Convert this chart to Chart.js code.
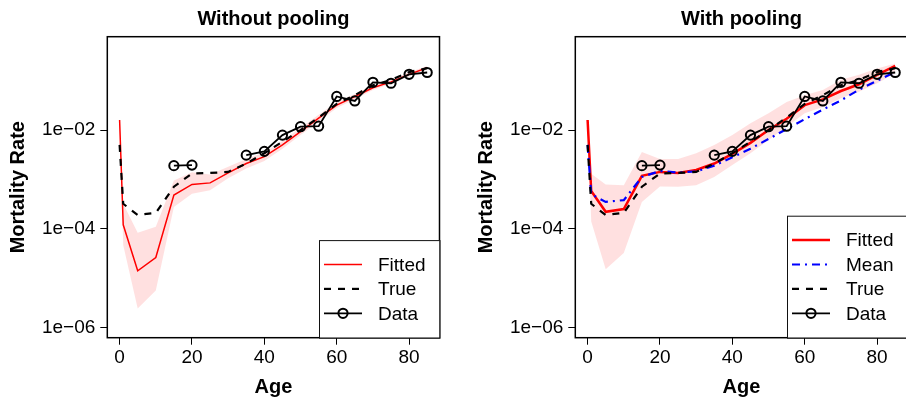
<!DOCTYPE html>
<html>
<head>
<meta charset="utf-8">
<script src="https://cdn.jsdelivr.net/npm/chart.js@4.4.1/dist/chart.umd.min.js"></script>
<style>
    html, body { margin: 0; padding: 0; background: #fff; overflow: hidden; width: 906px; height: 397px; }
    canvas { position: absolute; top: 0; }
    #leftChart { left: 0; }
    #rightChart { left: 468px; }
</style>
</head>
<body>
<canvas id="leftChart" width="468" height="397"></canvas>
<canvas id="rightChart" width="468" height="397"></canvas>
<script>
// ages on the x axis
const ages = [0, 1, 5, 10, 15, 20, 25, 30, 35, 40, 45, 50, 55, 60, 65, 70, 75, 80, 85];

// observed data (same in both panels), null = no data
const observed = [null, null, null, null, 1.9e-3, 1.95e-3, null, null, 3.1e-3, 3.7e-3, 7.9e-3, 1.17e-2, 1.2e-2, 4.8e-2, 3.9e-2, 9.3e-2, 8.9e-2, 1.35e-1, 1.47e-1];

// true rates
const trueRate = [5.0e-3, 3.2e-4, 1.9e-4, 2.1e-4, 7.1e-4, 1.32e-3, 1.35e-3, 1.42e-3, 2.1e-3, 3.4e-3, 5.8e-3, 1.0e-2, 1.8e-2, 3.4e-2, 5.1e-2, 8.1e-2, 1.04e-1, 1.5e-1, 1.8e-1];

// without pooling
const fittedNoPool = [1.6e-2, 1.2e-4, 1.4e-5, 2.6e-5, 4.8e-4, 7.9e-4, 8.5e-4, 1.35e-3, 2.1e-3, 2.9e-3, 5.0e-3, 9.3e-3, 1.74e-2, 3.2e-2, 4.8e-2, 7.2e-2, 9.5e-2, 1.35e-1, 1.84e-1];
const upperNoPool = [1.8e-2, 3.2e-4, 8.3e-5, 1.1e-4, 9.5e-4, 1.4e-3, 1.25e-3, 1.8e-3, 2.6e-3, 3.5e-3, 6.0e-3, 1.12e-2, 2.05e-2, 3.7e-2, 5.4e-2, 7.9e-2, 1.05e-1, 1.48e-1, 2.0e-1];
const lowerNoPool = [1.4e-2, 4.6e-5, 2.4e-6, 5.6e-6, 2.75e-4, 5.1e-4, 6.0e-4, 1.05e-3, 1.66e-3, 2.35e-3, 4.2e-3, 7.9e-3, 1.48e-2, 2.8e-2, 4.2e-2, 6.5e-2, 8.7e-2, 1.23e-1, 1.7e-1];

// with pooling
const fittedPool = [1.6e-2, 5.8e-4, 2.2e-4, 2.5e-4, 1.18e-3, 1.42e-3, 1.35e-3, 1.55e-3, 2.1e-3, 3.3e-3, 5.5e-3, 1.0e-2, 1.7e-2, 3.2e-2, 4.2e-2, 6.2e-2, 8.5e-2, 1.31e-1, 2.0e-1];
const meanPool = [5.0e-3, 5.0e-4, 3.5e-4, 3.8e-4, 1.12e-3, 1.48e-3, 1.38e-3, 1.45e-3, 1.9e-3, 2.8e-3, 4.2e-3, 6.6e-3, 1.05e-2, 1.66e-2, 2.6e-2, 4.0e-2, 6.6e-2, 1.0e-1, 1.5e-1];
const upperPool = [1.8e-2, 1.3e-3, 7.9e-4, 7.6e-4, 3.6e-3, 2.6e-3, 2.6e-3, 3.4e-3, 5.0e-3, 7.9e-3, 1.38e-2, 2.2e-2, 3.7e-2, 5.1e-2, 6.5e-2, 1.05e-1, 1.32e-1, 1.78e-1, 2.24e-1];
const lowerPool = [1.4e-2, 1.4e-4, 1.5e-5, 3.2e-5, 3.5e-4, 7.2e-4, 7.1e-4, 7.6e-4, 1.12e-3, 1.95e-3, 3.4e-3, 6.3e-3, 1.17e-2, 2.2e-2, 2.95e-2, 4.4e-2, 6.0e-2, 8.9e-2, 1.41e-1];

// ticks
const xTicks = [0, 20, 40, 60, 80];
const yTickValues = [1e-6, 1e-4, 1e-2];
const yTickLabels = ['1e\u221206', '1e\u221204', '1e\u221202'];

Chart.defaults.font.family = '"Liberation Sans", Arial, Helvetica, sans-serif';
Chart.defaults.color = '#000';

function pts(values) {
    return ages.map((a, i) => ({ x: a, y: values[i] }));
}

// box around the plot region
const boxPlugin = {
    id: 'plotBox',
    afterDatasetsDraw(chart) {
        const a = chart.chartArea;
        const ctx = chart.ctx;
        ctx.save();
        ctx.strokeStyle = '#000';
        ctx.lineWidth = 1.5;
        ctx.strokeRect(a.left, a.top, a.right - a.left, a.bottom - a.top);
        ctx.restore();
    }
};

// legend in the bottom-right corner, like R's legend("bottomright")
const cornerLegend = {
    id: 'cornerLegend',
    afterDraw(chart, args, opts) {
        const labels = opts.labels || [];
        const ctx = chart.ctx;
        const a = chart.chartArea;
        const row = 24.4;
        const w = 120.5;
        const h = (labels.length + 1) * row;
        const left = a.right - w;
        const top = a.bottom - h;
        ctx.save();
        ctx.fillStyle = '#fff';
        ctx.fillRect(left, top, w, h);
        ctx.strokeStyle = '#111';
        ctx.lineWidth = 1;
        ctx.strokeRect(left + 0.5, top + 0.5, w, h);
        ctx.font = '19px "Liberation Sans", Arial, sans-serif';
        ctx.textBaseline = 'middle';
        labels.forEach((lab, i) => {
            const ds = chart.data.datasets.find(d => d.label === lab);
            const y = top + row * (i + 1);
            const x0 = left + 5, x1 = left + 43;
            ctx.strokeStyle = ds.borderColor;
            ctx.lineWidth = ds.borderWidth;
            ctx.setLineDash(ds.borderDash || []);
            ctx.beginPath();
            ctx.moveTo(x0, y);
            ctx.lineTo(x1, y);
            ctx.stroke();
            ctx.setLineDash([]);
            if (ds.pointRadius > 0) {
                ctx.lineWidth = ds.pointBorderWidth;
                ctx.beginPath();
                ctx.arc((x0 + x1) / 2, y, ds.pointRadius, 0, Math.PI * 2);
                ctx.stroke();
            }
            ctx.fillStyle = '#000';
            ctx.fillText(lab, left + 59, y + 1);
        });
        ctx.restore();
    }
};

function makeChart(id, title, fitted, fittedWidth, upper, lower, mean, legendLabels) {
    const datasets = [
        {
            label: 'Data', data: pts(observed), borderColor: '#000', borderWidth: 1.8,
            pointRadius: 4.6, pointBorderWidth: 2, pointBorderColor: '#000',
            pointBackgroundColor: 'rgba(0,0,0,0)', spanGaps: false
        },
        {
            label: 'True', data: pts(trueRate), borderColor: '#000', borderWidth: 2.2,
            borderDash: [7, 7], pointRadius: 0
        }
    ];
    if (mean) {
        datasets.push({
            label: 'Mean', data: pts(mean), borderColor: '#0000ff', borderWidth: 2.2,
            borderDash: [8, 5, 2, 5], pointRadius: 0
        });
    }
    datasets.push(
        { label: 'Fitted', data: pts(fitted), borderColor: '#ff0000', borderWidth: fittedWidth, pointRadius: 0 },
        { label: 'upper', data: pts(upper), borderWidth: 0, borderColor: 'rgba(0,0,0,0)', pointRadius: 0, fill: false },
        { label: 'lower', data: pts(lower), borderWidth: 0, borderColor: 'rgba(0,0,0,0)', pointRadius: 0,
          fill: '-1', backgroundColor: 'rgba(255,0,0,0.12)' }
    );

    return new Chart(document.getElementById(id).getContext('2d'), {
        type: 'line',
        data: { datasets: datasets },
        options: {
            responsive: false,
            animation: false,
            devicePixelRatio: 1,
            layout: { padding: { top: 0, left: 0, right: 28.5, bottom: 0 } },
            elements: { line: { tension: 0 } },
            plugins: {
                legend: { display: false },
                tooltip: { enabled: false },
                title: {
                    display: true, text: title, fullSize: false, color: '#000',
                    font: { size: 20, weight: 'bold', lineHeight: 1.2 },
                    padding: { top: 7.5, bottom: 5.2 }
                },
                cornerLegend: { labels: legendLabels }
            },
            scales: {
                x: {
                    type: 'linear', min: -3.4, max: 88.4,
                    afterBuildTicks: s => { s.ticks = xTicks.map(v => ({ value: v })); },
                    afterFit: s => { s.height = 59.3; },
                    ticks: { font: { size: 19 }, color: '#000', padding: 2, maxRotation: 0 },
                    grid: { drawOnChartArea: false, drawTicks: true, tickLength: 7, color: '#000', lineWidth: 1 },
                    border: { display: true, color: '#000', width: 1 },
                    title: {
                        display: true, text: 'Age', color: '#000',
                        font: { size: 20, weight: 'bold', lineHeight: 1 },
                        padding: { top: 0, bottom: 0 }
                    }
                },
                y: {
                    type: 'logarithmic', min: 6.17e-7, max: 0.782,
                    afterBuildTicks: s => { s.ticks = yTickValues.map(v => ({ value: v })); },
                    afterFit: s => { s.width = 107.3; },
                    ticks: {
                        font: { size: 19 }, color: '#000', padding: 5,
                        callback: (v, i) => yTickLabels[i]
                    },
                    grid: { drawOnChartArea: false, drawTicks: true, tickLength: 7, color: '#000', lineWidth: 1 },
                    border: { display: true, color: '#000', width: 1 },
                    title: {
                        display: true, text: 'Mortality Rate', color: '#000',
                        font: { size: 20, weight: 'bold', lineHeight: 1.2 },
                        padding: { top: 6, bottom: 0 }
                    }
                }
            }
        },
        plugins: [boxPlugin, cornerLegend]
    });
}

makeChart('leftChart', 'Without pooling', fittedNoPool, 1.5, upperNoPool, lowerNoPool, null, ['Fitted', 'True', 'Data']);
makeChart('rightChart', 'With pooling', fittedPool, 2.5, upperPool, lowerPool, meanPool, ['Fitted', 'Mean', 'True', 'Data']);
</script>
</body>
</html>
